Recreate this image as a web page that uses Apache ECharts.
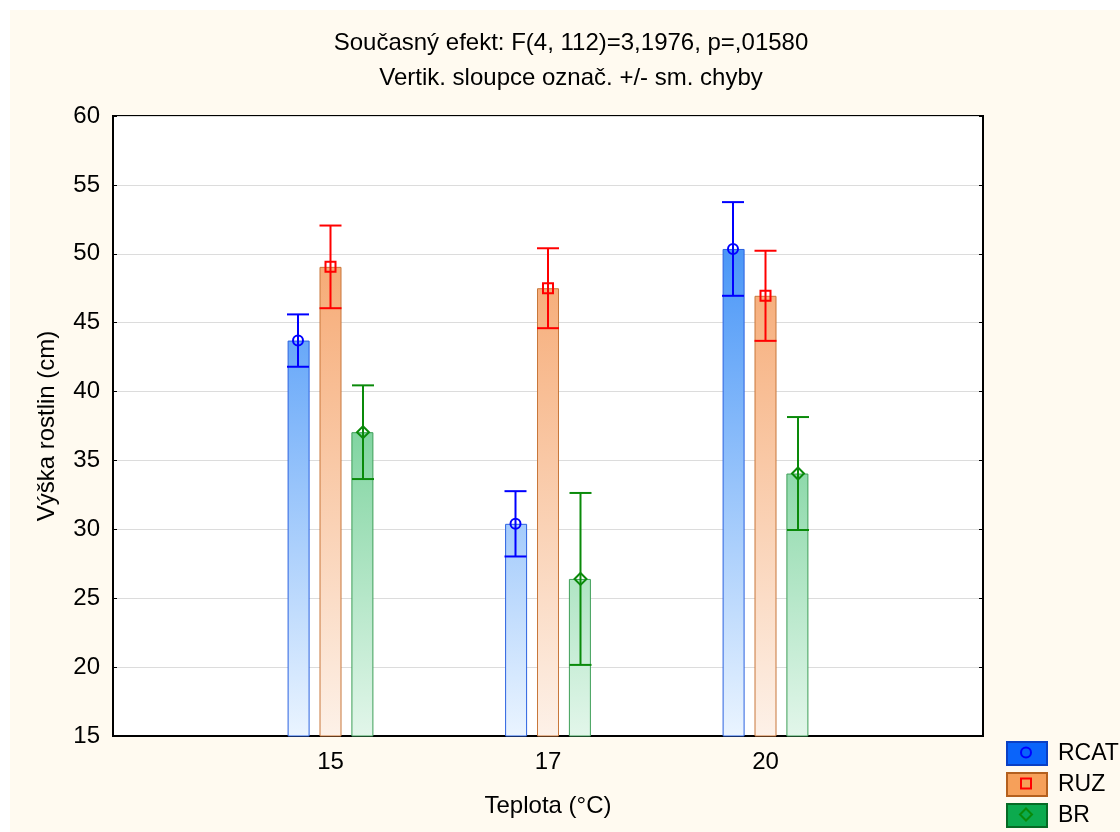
<!DOCTYPE html>
<html><head><meta charset="utf-8">
<script src="https://cdn.jsdelivr.net/npm/echarts@6/dist/echarts.min.js"></script>
<style>html,body{margin:0;padding:0;background:#fff}#c{width:1120px;height:832px}</style>
</head><body><div id="c"></div>
<script>
const categories = ['15', '17', '20'];
const seriesNames = ['RCAT', 'RUZ', 'BR'];
const rcatMean = [43.7, 30.4, 50.35];
const rcatSE = [1.9, 2.37, 3.4];
const ruzMean = [49.05, 47.5, 46.95];
const ruzSE = [3.0, 2.9, 3.27];
const brMean = [37.05, 26.4, 34.05];
const brSE = [3.4, 6.24, 4.1];
const yTicks = [15, 20, 25, 30, 35, 40, 45, 50, 55, 60];
const titleLines = ['Současný efekt: F(4, 112)=3,1976, p=,01580', 'Vertik. sloupce označ. +/- sm. chyby'];

const FONT = 'Liberation Sans, Arial, sans-serif';
const FS = 24;
const GT = 116, GB = 736;
function grad(top, bottom) {
  return { type: 'linear', x: 0, y: GT, x2: 0, y2: GB, global: true,
    colorStops: [{ offset: 0, color: top }, { offset: 1, color: bottom }] };
}
const styles = [
  { fill: grad('#1e7df5', '#eaf4ff'), border: '#2a62e0', err: '#0000ff', legend: '#0a64fa', legendBorder: '#0a3fc4', shape: 'circle', offset: -32.5 },
  { fill: grad('#f49552', '#fdf1e8'), border: '#c8773a', err: '#ff0000', legend: '#f6a05a', legendBorder: '#b4601e', shape: 'square', offset: 0 },
  { fill: grad('#1cb255', '#e2f6ea'), border: '#3e9e58', err: '#0a8a0a', legend: '#0caa4e', legendBorder: '#066a24', shape: 'diamond', offset: 32.5 }
];
const means = [rcatMean, ruzMean, brMean];
const ses = [rcatSE, ruzSE, brSE];
const axisCats = [''].concat(categories, ['']);

function markerShape(shape, cx, cy, color) {
  const st = { stroke: color, fill: 'none', lineWidth: 2 };
  if (shape === 'circle') return { type: 'circle', shape: { cx: cx, cy: cy, r: 5 }, style: st };
  if (shape === 'square') return { type: 'rect', shape: { x: cx - 5, y: cy - 5, width: 10, height: 10 }, style: st };
  return { type: 'polygon', shape: { points: [[cx, cy - 6], [cx + 6, cy], [cx, cy + 6], [cx - 6, cy]] }, style: st };
}

const series = [];
seriesNames.forEach((name, k) => {
  const s = styles[k];
  series.push({
    name: name, type: 'bar', barWidth: 22, barGap: '45%',
    data: [null].concat(means[k], [null]),
    itemStyle: { color: s.fill, borderColor: s.border, borderWidth: 1 },
    emphasis: { disabled: true }, z: 2
  });
});
seriesNames.forEach((name, k) => {
  const s = styles[k];
  const rows = categories.map((c, i) => [i + 1, means[k][i], ses[k][i]]);
  series.push({
    name: name, type: 'custom', data: rows, z: 5,
    encode: { x: 0, y: 1 },
    renderItem: function (params, api) {
      const xi = api.value(0), m = api.value(1), se = api.value(2);
      const pm = api.coord([xi, m]);
      const ph = api.coord([xi, m + se]);
      const pl = api.coord([xi, m - se]);
      const cx = pm[0] + s.offset;
      const ls = { stroke: s.err, lineWidth: 2 };
      return { type: 'group', children: [
        { type: 'line', shape: { x1: cx, y1: ph[1], x2: cx, y2: pl[1] }, style: ls },
        { type: 'line', shape: { x1: cx - 11, y1: ph[1], x2: cx + 11, y2: ph[1] }, style: ls },
        { type: 'line', shape: { x1: cx - 11, y1: pl[1], x2: cx + 11, y2: pl[1] }, style: ls },
        markerShape(s.shape, cx, pm[1], s.err)
      ] };
    }
  });
});

const legendTop = 740, legendItemH = 25, legendGap = 6, legendLeft = 1005, legendW = 40;
const graphics = [
  { type: 'rect', shape: { x: 10, y: 10, width: 1110, height: 822 }, style: { fill: '#fffaf0' }, z: -10, silent: true }
];
seriesNames.forEach((n, k) => {
  const cy = legendTop + k * (legendItemH + legendGap) + legendItemH / 2;
  const g = markerShape(styles[k].shape, legendLeft + 1 + legendW / 2, cy, styles[k].err);
  g.z = 100;
  graphics.push(g);
});

const chart = echarts.init(document.getElementById('c'));
chart.setOption({
  backgroundColor: '#ffffff',
  animation: false,
  textStyle: { fontFamily: FONT },
  title: {
    text: titleLines.join('\n'), left: 571, top: 26, textAlign: 'center', padding: 0,
    textStyle: { fontFamily: FONT, fontSize: FS, fontWeight: 'normal', color: '#000', lineHeight: 35 }
  },
  grid: { left: 113, right: 137, top: GT, bottom: 832 - GB, show: true, backgroundColor: '#ffffff', borderColor: '#000', borderWidth: 2, containLabel: false },
  legend: {
    orient: 'vertical', left: legendLeft + 1, top: legendTop + 1, itemWidth: legendW, itemHeight: legendItemH - 2, itemGap: legendGap,
    icon: 'rect', selectedMode: false, padding: 0,
    textStyle: { fontFamily: FONT, fontSize: 23, color: '#000', lineHeight: 23, padding: [0, 0, 0, 6] },
    data: seriesNames.map((n, k) => ({ name: n, itemStyle: { color: styles[k].legend, borderColor: styles[k].legendBorder, borderWidth: 2 } }))
  },
  xAxis: {
    type: 'category', data: axisCats, boundaryGap: false,
    name: 'Teplota (°C)', nameLocation: 'middle', nameGap: 58,
    nameTextStyle: { fontFamily: FONT, fontSize: FS, color: '#000' },
    axisLine: { lineStyle: { color: '#000', width: 2 } },
    axisTick: { inside: true, length: 4, lineStyle: { color: '#000' }, interval: function (i) { return i > 0 && i < axisCats.length - 1; } },
    axisLabel: { fontFamily: FONT, fontSize: FS, color: '#000', margin: 14, interval: 0 },
    splitLine: { show: false }
  },
  yAxis: [{
    type: 'value', min: yTicks[0], max: yTicks[yTicks.length - 1], interval: yTicks[1] - yTicks[0],
    name: 'Výška rostlin (cm)', nameLocation: 'middle', nameGap: 54, nameRotate: 90,
    nameTextStyle: { fontFamily: FONT, fontSize: FS, color: '#000' },
    axisLine: { show: true, lineStyle: { color: '#000', width: 2 } },
    axisTick: { show: true, inside: true, length: 4, lineStyle: { color: '#000' } },
    axisLabel: { fontFamily: FONT, fontSize: FS, color: '#000', margin: 13 },
    splitLine: { show: true, lineStyle: { color: '#dcdcdc', width: 1 } }
  }, {
    type: 'value', position: 'right', min: yTicks[0], max: yTicks[yTicks.length - 1], interval: yTicks[1] - yTicks[0],
    axisLine: { show: true, lineStyle: { color: '#000', width: 2 } },
    axisTick: { show: true, inside: true, length: 4, lineStyle: { color: '#000' } },
    axisLabel: { show: false }, splitLine: { show: false }
  }],
  graphic: graphics,
  series: series
});
</script></body></html>
